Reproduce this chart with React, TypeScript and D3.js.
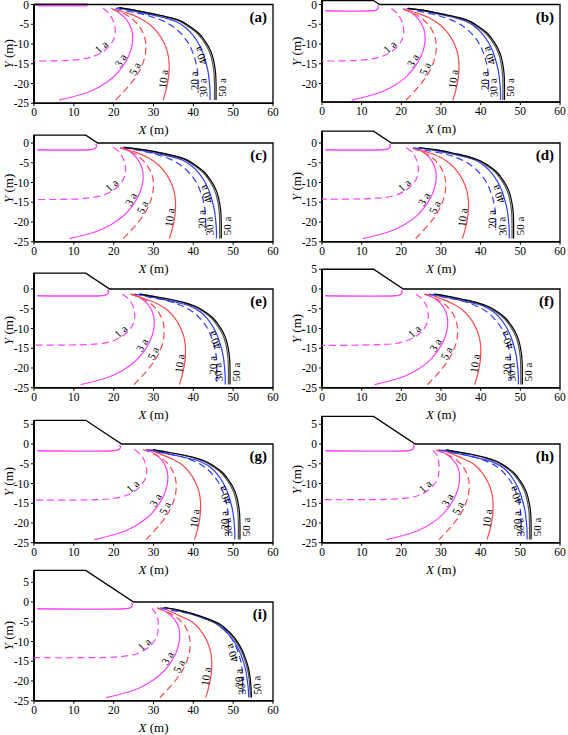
import React from 'react';
import * as d3 from 'd3';

const panelNames = ['(a)', '(b)', '(c)', '(d)', '(e)', '(f)', '(g)', '(h)', '(i)'];
const embankHeights = [0, 1, 2, 3, 4, 5, 6, 7, 8];
const crestWidth = 13;
const slopeRatio = 1.5;
const xTicks = [0, 10, 20, 30, 40, 50, 60];
const yTicks = [5, 0, -5, -10, -15, -20, -25];
const yearLabels = ['1 a', '3 a', '5 a', '10 a', '20 a', '30 a', '40 a', '50 a'];
const labelDepths = [-11.6, -14.8, -16.8, -19.0, -19.3, -21.0, -12.5, -21.0];

const pinkLine = [
  [[1, -0.3], [13.3, -0.3]],
  [[0.8, -1.6], [12.3, -1.6], [13.6, -1.4], [14.2, -0.8], [14.0, -0.2]],
  [[0.8, -1.7], [13.8, -1.7], [15.1, -1.5], [15.7, -0.9], [15.5, -0.2]],
  [[0.8, -1.7], [15.3, -1.7], [16.6, -1.5], [17.2, -0.9], [17.0, -0.2]],
  [[0.8, -1.7], [16.8, -1.7], [18.1, -1.5], [18.7, -0.9], [18.5, -0.2]],
  [[0.8, -1.7], [18.3, -1.7], [19.6, -1.5], [20.2, -0.9], [20.0, -0.2]],
  [[0.8, -1.7], [19.8, -1.7], [21.1, -1.5], [21.7, -0.9], [21.5, -0.2]],
  [[0.8, -1.7], [21.3, -1.7], [22.6, -1.5], [23.2, -0.9], [23.0, -0.2]],
  [[0.8, -1.7], [22.8, -1.7], [24.1, -1.5], [24.7, -0.9], [24.5, -0.2]],
];

const c1a = [
  [[17.3, -0.9], [18.7, -2.2], [19.9, -4.2], [20.4, -6.6], [20.1, -8.6], [19.1, -10.3], [17.4, -11.9], [15.0, -13.1], [12.0, -13.8], [8.0, -14.2], [0, -14.3]],
  [[17.5, -1.0], [18.9, -2.2], [20.1, -4.2], [20.6, -6.6], [20.3, -8.6], [19.3, -10.3], [17.6, -11.9], [15.2, -13.1], [12.2, -13.8], [8.2, -14.2], [0, -14.3]],
  [[19.9, -1.1], [21.3, -2.2], [22.5, -4.2], [23.0, -6.6], [22.7, -8.6], [21.7, -10.3], [20.0, -11.9], [17.6, -13.1], [14.6, -13.8], [10.6, -14.2], [0, -14.3]],
  [[21.2, -1.2], [22.6, -2.2], [23.8, -4.2], [24.3, -6.6], [24.0, -8.6], [23.0, -10.3], [21.3, -11.9], [18.9, -13.1], [15.9, -13.8], [11.9, -14.1], [0, -14.2]],
  [[22.2, -1.3], [23.6, -2.4], [24.8, -4.2], [25.3, -6.6], [25.0, -8.6], [24.0, -10.3], [22.3, -11.9], [19.9, -13.1], [16.9, -13.8], [12.9, -14.1], [0, -14.2]],
  [[23.7, -1.3], [25.1, -2.4], [26.3, -4.2], [26.8, -6.6], [26.5, -8.6], [25.5, -10.3], [23.8, -11.9], [21.4, -13.1], [18.4, -13.8], [14.4, -14.1], [0, -14.3]],
  [[25.2, -1.4], [26.6, -2.5], [27.8, -4.4], [28.3, -6.6], [28.0, -8.6], [27.0, -10.3], [25.3, -11.9], [22.9, -13.1], [19.9, -13.8], [15.9, -14.1], [0, -14.2]],
  [[28.0, -1.6], [28.9, -2.7], [29.4, -4.4], [29.5, -6.6], [29.2, -8.6], [28.2, -10.3], [26.5, -11.9], [24.1, -13.1], [21.1, -13.7], [17.1, -14.0], [0, -14.1]],
  [[29.6, -1.6], [30.5, -2.8], [31.1, -4.5], [31.2, -6.6], [30.9, -8.6], [29.9, -10.3], [28.2, -11.9], [25.8, -13.1], [22.8, -13.7], [18.8, -14.0], [0, -14.1]],
];

const c3a = [
  [[19.3, -0.9], [21.5, -2.2], [23.2, -3.8], [24.4, -6], [24.8, -8.2], [24.6, -10.5], [23.8, -13], [22.2, -15.8], [19.8, -18.5], [16.5, -20.8], [12.5, -22.6], [6.3, -24.2]],
  [[20.5, -1.0], [22.7, -2.2], [24.4, -3.8], [25.6, -6], [26.0, -8.2], [25.8, -10.5], [25.0, -13], [23.4, -15.8], [21.0, -18.5], [17.7, -20.8], [13.7, -22.6], [7.5, -24.2]],
  [[21.9, -1.1], [24.1, -2.2], [25.8, -3.8], [27.0, -6], [27.4, -8.2], [27.2, -10.5], [26.4, -13], [24.8, -15.8], [22.4, -18.5], [19.1, -20.8], [15.1, -22.6], [8.9, -24.2]],
  [[23.3, -1.2], [25.5, -2.3], [27.2, -3.8], [28.4, -6], [28.8, -8.2], [28.6, -10.5], [27.8, -13], [26.2, -15.8], [23.8, -18.5], [20.5, -20.8], [16.5, -22.6], [10.3, -24.2]],
  [[24.7, -1.3], [26.9, -2.4], [28.6, -3.9], [29.8, -6], [30.2, -8.2], [30.0, -10.5], [29.2, -13], [27.6, -15.8], [25.2, -18.5], [21.9, -20.8], [17.9, -22.6], [11.7, -24.2]],
  [[26.2, -1.3], [28.4, -2.4], [30.1, -3.9], [31.3, -6], [31.7, -8.2], [31.5, -10.5], [30.7, -13], [29.1, -15.8], [26.7, -18.5], [23.4, -20.8], [19.4, -22.6], [13.2, -24.2]],
  [[28.1, -1.4], [30.3, -2.5], [32.0, -4.0], [33.2, -6], [33.6, -8.2], [33.4, -10.5], [32.6, -13], [31.0, -15.8], [28.6, -18.5], [25.3, -20.8], [21.3, -22.6], [15.1, -24.2]],
  [[29.2, -1.5], [31.4, -2.6], [33.1, -4.1], [34.3, -6], [34.7, -8.2], [34.5, -10.5], [33.7, -13], [32.1, -15.8], [29.7, -18.5], [26.4, -20.8], [22.4, -22.6], [16.2, -24.2]],
  [[31.1, -1.5], [33.3, -2.6], [35.0, -4.1], [36.2, -6], [36.6, -8.2], [36.4, -10.5], [35.6, -13], [34.0, -15.8], [31.6, -18.5], [28.3, -20.8], [24.3, -22.6], [18.1, -24.2]],
];

const c5a = [
  [[19.7, -1.2], [22.5, -2.3], [24.8, -3.8], [26.6, -5.8], [27.7, -8], [28.1, -10.2], [27.9, -12.8], [27.2, -15.2], [25.9, -17.8], [24.3, -20], [22.4, -22.2], [20.5, -24.2]],
  [[20.4, -1.2], [23.2, -2.3], [25.5, -3.8], [27.3, -5.8], [28.4, -8], [28.8, -10.2], [28.6, -12.8], [27.9, -15.2], [26.6, -17.8], [25.0, -20], [23.1, -22.2], [21.2, -24.2]],
  [[21.6, -1.2], [24.4, -2.3], [26.7, -3.8], [28.5, -5.8], [29.6, -8], [30.0, -10.2], [29.8, -12.8], [29.1, -15.2], [27.8, -17.8], [26.2, -20], [24.3, -22.2], [22.4, -24.2]],
  [[22.8, -1.3], [25.6, -2.4], [27.9, -3.8], [29.7, -5.8], [30.8, -8], [31.2, -10.2], [31.0, -12.8], [30.3, -15.2], [29.0, -17.8], [27.4, -20], [25.5, -22.2], [23.6, -24.2]],
  [[24.3, -1.3], [27.1, -2.4], [29.4, -3.8], [31.2, -5.8], [32.3, -8], [32.7, -10.2], [32.5, -12.8], [31.8, -15.2], [30.5, -17.8], [28.9, -20], [27.0, -22.2], [25.1, -24.2]],
  [[25.8, -1.3], [28.6, -2.4], [30.9, -3.8], [32.7, -5.8], [33.8, -8], [34.2, -10.2], [34.0, -12.8], [33.3, -15.2], [32.0, -17.8], [30.4, -20], [28.5, -22.2], [26.6, -24.2]],
  [[27.3, -1.4], [30.1, -2.5], [32.4, -3.9], [34.2, -5.8], [35.3, -8], [35.7, -10.2], [35.5, -12.8], [34.8, -15.2], [33.5, -17.8], [31.9, -20], [30.0, -22.2], [28.1, -24.2]],
  [[28.7, -1.5], [31.5, -2.6], [33.8, -4.0], [35.6, -5.8], [36.7, -8], [37.1, -10.2], [36.9, -12.8], [36.2, -15.2], [34.9, -17.8], [33.3, -20], [31.4, -22.2], [29.5, -24.2]],
  [[30.8, -1.5], [33.6, -2.6], [35.9, -4.0], [37.7, -5.8], [38.8, -8], [39.2, -10.2], [39.0, -12.8], [38.3, -15.2], [37.0, -17.8], [35.4, -20], [33.5, -22.2], [31.6, -24.2]],
];

const c10a = [
  [[20.1, -1.2], [23.5, -2.2], [26.6, -3.5], [29.2, -5.2], [31.2, -7.3], [32.6, -9.6], [33.5, -12], [33.9, -14.5], [33.9, -17], [33.6, -19.5], [33.1, -21.8], [32.4, -24.2]],
  [[20.7, -1.2], [24.1, -2.2], [27.2, -3.5], [29.8, -5.2], [31.8, -7.3], [33.2, -9.6], [34.1, -12], [34.5, -14.5], [34.5, -17], [34.2, -19.5], [33.7, -21.8], [33.0, -24.2]],
  [[21.7, -1.2], [25.1, -2.2], [28.2, -3.5], [30.8, -5.2], [32.8, -7.3], [34.2, -9.6], [35.1, -12], [35.5, -14.5], [35.5, -17], [35.2, -19.5], [34.7, -21.8], [34.0, -24.2]],
  [[23.1, -1.3], [26.5, -2.3], [29.6, -3.5], [32.2, -5.2], [34.2, -7.3], [35.6, -9.6], [36.5, -12], [36.9, -14.5], [36.9, -17], [36.6, -19.5], [36.1, -21.8], [35.4, -24.2]],
  [[24.2, -1.3], [27.6, -2.4], [30.7, -3.6], [33.3, -5.2], [35.3, -7.3], [36.7, -9.6], [37.6, -12], [38.0, -14.5], [38.0, -17], [37.7, -19.5], [37.2, -21.8], [36.5, -24.2]],
  [[27.0, -1.3], [29.9, -2.4], [32.7, -3.6], [35.3, -5.2], [37.3, -7.3], [38.7, -9.6], [39.6, -12], [40.0, -14.5], [40.0, -17], [39.7, -19.5], [39.2, -21.8], [38.5, -24.2]],
  [[28.8, -1.4], [31.6, -2.5], [34.5, -3.7], [37.1, -5.2], [39.1, -7.3], [40.5, -9.6], [41.4, -12], [41.8, -14.5], [41.8, -17], [41.5, -19.5], [41.0, -21.8], [40.3, -24.2]],
  [[30.3, -1.5], [33.0, -2.6], [35.8, -3.8], [38.4, -5.2], [40.4, -7.3], [41.8, -9.6], [42.7, -12], [43.1, -14.5], [43.1, -17], [42.8, -19.5], [42.3, -21.8], [41.6, -24.2]],
  [[32.3, -1.5], [34.7, -2.6], [37.3, -3.8], [39.9, -5.2], [41.9, -7.3], [43.3, -9.6], [44.2, -12], [44.6, -14.5], [44.6, -17], [44.3, -19.5], [43.8, -21.8], [43.1, -24.2]],
];

const c20a = [
  [[20.5, -1.0], [24.5, -1.9], [28.9, -2.9], [32.5, -4.2], [35.2, -5.8], [37.3, -7.8], [38.9, -10], [40.0, -12.6], [40.7, -15], [41.1, -17.5], [41.2, -20], [41.2, -22.3]],
  [[21.3, -1.0], [25.3, -1.9], [29.7, -2.9], [33.3, -4.2], [36.0, -5.8], [38.1, -7.8], [39.7, -10], [40.8, -12.6], [41.5, -15], [41.9, -17.5], [42.0, -20], [42.0, -22.0]],
  [[22.4, -1.1], [26.4, -1.9], [30.8, -2.9], [34.4, -4.2], [37.1, -5.8], [39.2, -7.8], [40.8, -10], [41.9, -12.6], [42.6, -15], [43.0, -17.5], [43.1, -20], [43.1, -22.3]],
  [[23.1, -1.2], [27.1, -2.0], [31.5, -2.9], [35.1, -4.2], [37.8, -5.8], [39.9, -7.8], [41.5, -10], [42.6, -12.6], [43.3, -15], [43.7, -17.5], [43.8, -20], [43.8, -22.0]],
  [[25.2, -1.3], [29.2, -2.1], [33.6, -3.0], [37.2, -4.3], [39.9, -5.8], [42.0, -7.8], [43.6, -10], [44.7, -12.6], [45.4, -15], [45.8, -17.5], [45.9, -20], [45.9, -23.5]],
  [[26.9, -1.3], [30.9, -2.1], [35.3, -3.0], [38.9, -4.3], [41.6, -5.8], [43.7, -7.8], [45.3, -10], [46.4, -12.6], [47.1, -15], [47.5, -17.5], [47.6, -20], [47.6, -23.3]],
  [[28.1, -1.4], [32.1, -2.2], [36.5, -3.1], [40.1, -4.3], [42.8, -5.8], [44.9, -7.8], [46.5, -10], [47.6, -12.6], [48.3, -15], [48.7, -17.5], [48.8, -20], [48.8, -23.3]],
  [[29.5, -1.5], [33.5, -2.3], [37.9, -3.2], [41.5, -4.4], [44.2, -5.8], [46.3, -7.8], [47.9, -10], [49.0, -12.6], [49.7, -15], [50.1, -17.5], [50.2, -20], [50.2, -23.3]],
  [[31.7, -1.5], [35.7, -2.3], [40.1, -3.2], [43.7, -4.4], [46.4, -5.8], [48.5, -7.8], [50.1, -10], [51.2, -12.6], [51.9, -15], [52.3, -17.5], [52.4, -20], [52.4, -23.3]],
];

const c30a = [
  [[20.9, -0.8], [25.0, -1.7], [28.9, -2.5], [32.5, -3.3], [35.6, -4.3], [38.0, -5.8], [39.8, -7.6], [41.2, -9.7], [42.3, -12], [43.1, -14.5], [43.7, -17], [44.0, -19.5], [44.2, -22], [44.2, -24.2]],
  [[21.7, -1.0], [25.8, -1.7], [29.7, -2.5], [33.3, -3.3], [36.4, -4.3], [38.8, -5.8], [40.6, -7.6], [42.0, -9.7], [43.1, -12], [43.9, -14.5], [44.5, -17], [44.8, -19.5], [45.0, -22], [45.0, -24.2]],
  [[22.5, -1.1], [26.6, -1.8], [30.5, -2.6], [34.1, -3.4], [37.2, -4.3], [39.6, -5.8], [41.4, -7.6], [42.8, -9.7], [43.9, -12], [44.7, -14.5], [45.3, -17], [45.6, -19.5], [45.8, -22], [45.8, -24.2]],
  [[24.0, -1.2], [28.0, -1.8], [31.9, -2.6], [35.5, -3.4], [38.6, -4.3], [41.0, -5.8], [42.8, -7.6], [44.2, -9.7], [45.3, -12], [46.1, -14.5], [46.7, -17], [47.0, -19.5], [47.2, -22], [47.2, -24.2]],
  [[26.2, -1.3], [28.8, -1.9], [32.7, -2.7], [36.3, -3.5], [39.4, -4.4], [41.8, -5.8], [43.6, -7.6], [45.0, -9.7], [46.1, -12], [46.9, -14.5], [47.5, -17], [47.8, -19.5], [48.0, -22], [48.0, -24.2]],
  [[27.9, -1.3], [30.3, -1.9], [34.2, -2.7], [37.8, -3.5], [40.9, -4.4], [43.3, -5.8], [45.1, -7.6], [46.5, -9.7], [47.6, -12], [48.4, -14.5], [49.0, -17], [49.3, -19.5], [49.5, -22], [49.5, -24.2]],
  [[29.4, -1.4], [31.2, -2.0], [35.1, -2.8], [38.7, -3.6], [41.8, -4.5], [44.2, -5.8], [46.0, -7.6], [47.4, -9.7], [48.5, -12], [49.3, -14.5], [49.9, -17], [50.2, -19.5], [50.4, -22], [50.4, -24.2]],
  [[30.9, -1.5], [32.5, -2.0], [36.4, -2.9], [40.0, -3.7], [43.1, -4.6], [45.5, -5.9], [47.3, -7.6], [48.7, -9.7], [49.8, -12], [50.6, -14.5], [51.2, -17], [51.5, -19.5], [51.7, -22], [51.7, -24.2]],
  [[32.4, -1.4], [35.5, -2.0], [39.3, -3.0], [42.7, -4.2], [45.5, -5.4], [47.5, -6.9], [49.1, -8.5], [50.4, -10.3], [51.5, -12.3], [52.4, -14.6], [53.1, -17], [53.5, -19.5], [53.8, -22], [53.9, -24.2]],
];

const c40a = [
  [[21.4, -0.8], [26.0, -1.6], [30.3, -2.5], [34.1, -3.4], [36.9, -4.4], [39.2, -5.9], [41.1, -7.4], [42.5, -9.2], [43.6, -11], [44.4, -13], [44.9, -15.2], [45.2, -17.5], [45.3, -20], [45.3, -24.2]],
  [[21.7, -1.0], [26.3, -1.6], [30.5, -2.5], [34.4, -3.4], [37.2, -4.4], [39.5, -5.9], [41.4, -7.4], [42.8, -9.2], [43.9, -11], [44.7, -13], [45.2, -15.2], [45.5, -17.5], [45.6, -20], [45.6, -24.2]],
  [[22.7, -1.1], [27.3, -1.7], [31.5, -2.5], [35.4, -3.4], [38.2, -4.4], [40.5, -5.9], [42.4, -7.4], [43.8, -9.2], [44.9, -11], [45.7, -13], [46.2, -15.2], [46.5, -17.5], [46.6, -20], [46.6, -24.2]],
  [[24.5, -1.2], [28.6, -1.7], [32.8, -2.6], [36.7, -3.5], [39.5, -4.5], [41.8, -5.9], [43.7, -7.4], [45.1, -9.2], [46.2, -11], [47.0, -13], [47.5, -15.2], [47.8, -17.5], [47.9, -20], [47.9, -24.2]],
  [[26.6, -1.3], [29.5, -1.8], [33.7, -2.6], [37.6, -3.5], [40.4, -4.5], [42.7, -5.9], [44.6, -7.4], [46.0, -9.2], [47.1, -11], [47.9, -13], [48.4, -15.2], [48.7, -17.5], [48.8, -20], [48.8, -24.2]],
  [[28.4, -1.3], [30.8, -1.7], [35.0, -2.6], [38.9, -3.5], [41.7, -4.5], [44.0, -5.9], [45.9, -7.4], [47.3, -9.2], [48.4, -11], [49.2, -13], [49.7, -15.2], [50.0, -17.5], [50.1, -20], [50.1, -24.2]],
  [[29.9, -1.4], [32.0, -1.8], [36.2, -2.6], [40.1, -3.5], [42.9, -4.5], [45.2, -5.9], [47.1, -7.4], [48.5, -9.2], [49.6, -11], [50.4, -13], [50.9, -15.2], [51.2, -17.5], [51.3, -20], [51.3, -24.2]],
  [[31.4, -1.5], [33.0, -1.8], [37.2, -2.6], [41.1, -3.5], [43.9, -4.5], [46.2, -5.9], [48.1, -7.4], [49.5, -9.2], [50.6, -11], [51.4, -13], [51.9, -15.2], [52.2, -17.5], [52.3, -20], [52.3, -24.2]],
  [[32.8, -1.4], [36.0, -2.0], [39.7, -3.0], [43.2, -4.2], [46.0, -5.4], [48.0, -6.9], [49.6, -8.5], [50.9, -10.3], [52.0, -12.3], [52.9, -14.6], [53.6, -17], [54.0, -19.5], [54.2, -22], [54.3, -24.2]],
];

const c50a = [
  [[21.4, -0.8], [26.0, -1.6], [30.6, -2.5], [34.5, -3.4], [37.3, -4.4], [39.6, -5.9], [41.5, -7.4], [42.9, -9.2], [44.0, -11], [44.8, -13], [45.3, -15.2], [45.6, -17.5], [45.7, -20], [45.7, -24.2]],
  [[21.7, -1.0], [26.3, -1.6], [30.9, -2.5], [34.8, -3.4], [37.6, -4.4], [39.9, -5.9], [41.8, -7.4], [43.2, -9.2], [44.3, -11], [45.1, -13], [45.6, -15.2], [45.9, -17.5], [46.0, -20], [46.0, -24.2]],
  [[22.7, -1.1], [27.3, -1.7], [31.9, -2.5], [35.8, -3.4], [38.6, -4.4], [40.9, -5.9], [42.8, -7.4], [44.2, -9.2], [45.3, -11], [46.1, -13], [46.6, -15.2], [46.9, -17.5], [47.0, -20], [47.0, -24.2]],
  [[24.5, -1.2], [28.6, -1.7], [33.2, -2.6], [37.1, -3.5], [39.9, -4.5], [42.2, -5.9], [44.1, -7.4], [45.5, -9.2], [46.6, -11], [47.4, -13], [47.9, -15.2], [48.2, -17.5], [48.3, -20], [48.3, -24.2]],
  [[26.6, -1.3], [29.5, -1.8], [34.1, -2.6], [38.0, -3.5], [40.8, -4.5], [43.1, -5.9], [45.0, -7.4], [46.4, -9.2], [47.5, -11], [48.3, -13], [48.8, -15.2], [49.1, -17.5], [49.2, -20], [49.2, -24.2]],
  [[28.4, -1.3], [30.8, -1.7], [35.4, -2.6], [39.3, -3.5], [42.1, -4.5], [44.4, -5.9], [46.3, -7.4], [47.7, -9.2], [48.8, -11], [49.6, -13], [50.1, -15.2], [50.4, -17.5], [50.5, -20], [50.5, -24.2]],
  [[29.9, -1.4], [32.0, -1.8], [36.6, -2.6], [40.5, -3.5], [43.3, -4.5], [45.6, -5.9], [47.5, -7.4], [48.9, -9.2], [50.0, -11], [50.8, -13], [51.3, -15.2], [51.6, -17.5], [51.7, -20], [51.7, -24.2]],
  [[31.4, -1.5], [33.0, -1.8], [37.6, -2.6], [41.5, -3.5], [44.3, -4.5], [46.6, -5.9], [48.5, -7.4], [49.9, -9.2], [51.0, -11], [51.8, -13], [52.3, -15.2], [52.6, -17.5], [52.7, -20], [52.7, -24.2]],
  [[32.8, -1.4], [36.0, -2.0], [40.0, -3.0], [43.5, -4.2], [46.3, -5.4], [48.3, -6.9], [49.9, -8.5], [51.2, -10.3], [52.3, -12.3], [53.2, -14.6], [53.9, -17], [54.3, -19.5], [54.5, -22], [54.6, -24.2]],
];

const curves = [c1a, c3a, c5a, c10a, c20a, c30a, c40a, c50a];

const MAGENTA = '#ff40ff';
const RED = '#ff4848';
const BLUE = '#2f3cff';
const seriesStyle = [
  { color: MAGENTA, dash: '7,4' },
  { color: MAGENTA, dash: null },
  { color: RED, dash: '7,4' },
  { color: RED, dash: null },
  { color: BLUE, dash: '7,4' },
  { color: BLUE, dash: null },
  { color: '#555', dash: null },
  { color: '#000', dash: null },
];
const labelOffset = [0, 0, 0, 0, 1, -2, -5, 11];

const FONT = '"Liberation Serif", "Times New Roman", serif';
const K = 3.95;
const colX = [[34, 273], [322, 560]];
const rowY0 = [4.5, 143, 289, 444, 602];

function labelPoint(pts: number[][], ly: number) {
  for (let i = 0; i < pts.length - 1; i++) {
    const [xa, ya] = pts[i];
    const [xb, yb] = pts[i + 1];
    if ((ya - ly) * (yb - ly) <= 0 && ya !== yb) {
      const t = (ly - ya) / (yb - ya);
      return { x: xa + t * (xb - xa), y: ly, dx: xb - xa, dy: yb - ya };
    }
  }
  return null;
}

function Panel({ idx }: { idx: number }) {
  const col = idx % 2;
  const row = Math.floor(idx / 2);
  const [px0, px1] = colX[col];
  const py0 = rowY0[row];
  const H = embankHeights[idx];
  const yMin = idx === 1 ? -24.7 : -25;
  const x = d3.scaleLinear().domain([0, 60]).range([px0, px1]);
  const y = d3.scaleLinear().domain([0, -25]).range([py0, py0 + 25 * K]);
  const toe = crestWidth + slopeRatio * H;
  const line = d3
    .line<number[]>()
    .x((d) => x(d[0]))
    .y((d) => y(d[1]))
    .curve(d3.curveCatmullRom.alpha(0.5));
  const straight = d3
    .line<number[]>()
    .x((d) => x(d[0]))
    .y((d) => y(d[1]));
  const frame: number[][] = [
    [0, yMin],
    [0, H],
    [crestWidth, H],
    [toe, 0],
    [60, 0],
    [60, yMin],
    [0, yMin],
  ];
  const yb = y(yMin);
  const ticksY = yTicks.filter((t) => t <= H && t >= yMin);
  const pink = pinkLine[idx];

  return (
    <g>
      {H === 0 && (
        <line x1={x(0)} x2={x(13.5)} y1={y(0)} y2={y(0)} stroke="#9a9a9a" strokeWidth={2.5} />
      )}
      <path d={straight(frame) || ''} fill="none" stroke="#000" strokeWidth={1.3} strokeLinejoin="miter" />
      <line x1={x(0)} x2={x(0)} y1={yb} y2={y(H)} stroke="#000" strokeWidth={2} />
      <line x1={x(0)} x2={x(60)} y1={yb} y2={yb} stroke="#000" strokeWidth={1.6} />
      {xTicks.map((t) => (
        <g key={'xt' + t}>
          <line x1={x(t)} x2={x(t)} y1={yb} y2={yb + 3} stroke="#000" strokeWidth={1} />
          <text x={x(t)} y={yb + 13} textAnchor="middle" fontSize={11.5} fontFamily={FONT}>
            {t}
          </text>
        </g>
      ))}
      {ticksY.map((t) => (
        <g key={'yt' + t}>
          <line x1={x(0) - 3} x2={x(0)} y1={y(t)} y2={y(t)} stroke="#000" strokeWidth={1} />
          <text x={x(0) - 5} y={y(t) + 4} textAnchor="end" fontSize={11.5} fontFamily={FONT}>
            {t}
          </text>
        </g>
      ))}
      <text x={(px0 + px1) / 2} y={yb + 31} textAnchor="middle" fontSize={13} fontFamily={FONT}>
        <tspan fontStyle="italic">X</tspan> (m)
      </text>
      <text
        transform={`translate(${px0 - 21},${(y(H) + yb) / 2}) rotate(-90)`}
        textAnchor="middle"
        fontSize={13}
        fontFamily={FONT}
      >
        <tspan fontStyle="italic">Y</tspan> (m)
      </text>
      <path d={line(pink) || ''} fill="none" stroke={MAGENTA} strokeWidth={1.4} />
      {curves.map((c, i) => (
        <path
          key={'c' + i}
          d={line(c[idx]) || ''}
          fill="none"
          stroke={seriesStyle[i].color}
          strokeWidth={1.2}
          strokeDasharray={seriesStyle[i].dash || undefined}
        />
      ))}
      {curves.map((c, i) => {
        const p = labelPoint(c[idx], labelDepths[i]);
        if (!p) return null;
        let sx = x(p.x + p.dx) - x(p.x);
        let sy = y(p.y + p.dy) - y(p.y);
        if (sy > 0) {
          sx = -sx;
          sy = -sy;
        }
        const ang = (Math.atan2(sy, sx) * 180) / Math.PI;
        return (
          <text
            key={'l' + i}
            transform={`translate(${x(p.x) + labelOffset[i]},${y(p.y)}) rotate(${ang})`}
            x={0}
            y={-1}
            textAnchor="middle"
            fontSize={11}
            fontFamily={FONT}
          >
            {yearLabels[i]}
          </text>
        );
      })}
      <text
        x={px1 - 6}
        y={y(0) + 17}
        textAnchor="end"
        fontSize={15}
        fontWeight="bold"
        fontFamily={FONT}
      >
        {panelNames[idx]}
      </text>
    </g>
  );
}

export default function App() {
  return (
    <svg
      width={568}
      height={735}
      style={{ position: 'absolute', left: 0, top: 0, background: '#fff' }}
    >
      {panelNames.map((_, i) => (
        <Panel key={i} idx={i} />
      ))}
    </svg>
  );
}
